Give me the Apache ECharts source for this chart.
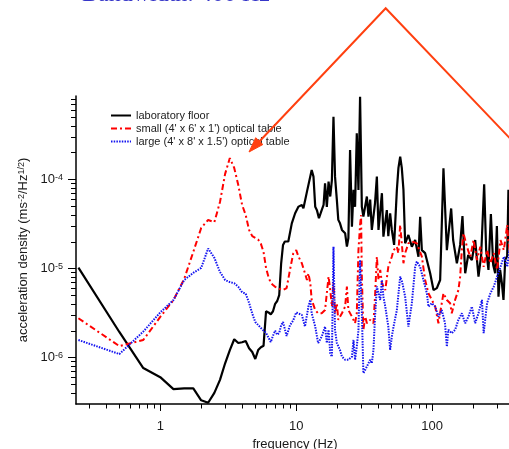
<!DOCTYPE html>
<html>
<head>
<meta charset="utf-8">
<style>
  html, body { margin: 0; padding: 0; background: #fff; }
  #chart { width: 509px; height: 449px; }
</style>
<script src="https://cdn.jsdelivr.net/npm/echarts@6/dist/echarts.min.js"></script>
</head>
<body>
<div id="chart"></div>
<script>
// axis ranges (log axes)
const FREQ_MIN = 0.24, FREQ_MAX = 400;
const ACC_MIN = 3e-7, ACC_MAX = 8.6e-4;

// labelled decades
const xTickLabels = [1, 10, 100];
const yTickLabels = [1e-6, 1e-5, 1e-4];

const seriesNames = [
  "laboratory floor",
  "small (4' x 6' x 1') optical table",
  "large (4' x 8' x 1.5') optical table"
];

// [frequency (Hz), acceleration density (m s^-2 / Hz^1/2)]
const floorData = [
  [0.25,1.02e-5],[0.5,1.93e-6],[0.75,7.6e-7],[1,6.0e-7],[1.25,4.4e-7],[1.5,4.5e-7],[1.75,4.5e-7],
  [2,3.3e-7],[2.25,3.1e-7],[2.5,4.0e-7],[2.75,5.6e-7],[3,8.6e-7],[3.25,1.21e-6],[3.5,1.6e-6],
  [3.75,1.45e-6],[4,1.48e-6],[4.25,1.53e-6],[4.5,1.27e-6],[4.75,1.15e-6],[5,9.6e-7],[5.25,1.21e-6],
  [5.5,1.3e-6],[5.75,1.35e-6],[6,3.3e-6],[6.25,3.2e-6],[6.5,3.05e-6],[6.75,3.3e-6],[7,4.0e-6],
  [7.25,4.3e-6],[7.5,5.0e-6],[7.75,1.14e-5],[8,1.83e-5],[8.25,2.0e-5],[8.5,2.05e-5],[8.75,2.0e-5],
  [9.28,3.2e-5],[9.82,4.15e-5],[10.4,4.93e-5],[11,5.15e-5],[11.3,4.72e-5],[12,7.26e-5],[12.3,7.6e-5],
  [13,1.27e-4],[13.4,1.07e-4],[13.8,4.9e-5],[14.2,4.5e-5],[14.7,3.65e-5],[15.4,4.5e-5],[15.9,5.15e-5],
  [16.3,9.0e-5],[16.8,4.9e-5],[17.3,9.4e-5],[17.8,6.4e-5],[18.3,9.8e-5],[18.8,5.04e-4],[19.3,1.07e-4],
  [19.9,5.9e-5],[20.4,3.5e-5],[21,3.2e-5],[21.7,2.7e-5],[22.9,2.48e-5],[23.6,1.75e-5],[24.2,2.19e-5],
  [24.9,2.13e-4],[25.7,2.94e-5],[26.4,7.6e-5],[27.1,4.9e-5],[27.9,3.28e-4],[28.7,7.6e-5],[29.5,8.45e-4],
  [30.4,4.9e-5],[31.2,3.8e-5],[33.1,6.4e-5],[34,3.8e-5],[35,5.9e-5],[36,2.7e-5],[38,5.4e-5],
  [39.2,1.07e-4],[40.3,2.7e-5],[42.7,6.97e-5],[43.8,2.27e-5],[46.4,4.5e-5],[47.6,2.3e-5],[49.1,4.15e-5],
  [50.5,2.7e-5],[52.5,1.83e-5],[55,7.6e-5],[56.5,1.34e-4],[58.2,1.79e-4],[59.8,1.34e-4],[61.5,7.6e-5],
  [63.3,1.91e-5],[66.9,2.37e-5],[70.9,1.75e-5],[75,2.08e-5],[79.3,1.35e-5],[81.6,3.8e-5],[84,1.6e-5],
  [88.8,1.48e-5],[96.7,8.8e-6],[102.3,5.7e-6],[108.3,6.0e-6],[114.5,7.4e-6],[121.1,1.33e-4],[128.3,1.6e-5],
  [138,4.7e-5],[142.7,2.08e-5],[152,1.14e-5],[160.7,1.83e-5],[167.1,3.87e-5],[175,8.8e-6],[184.2,1.41e-5],
  [196,1.24e-5],[207.3,2.08e-5],[219.2,8.07e-6],[229.4,1.41e-5],[241.3,8.8e-5],[249.6,1.6e-5],
  [259.6,9.6e-6],[270.4,4.08e-5],[281.2,1.09e-5],[290.8,8.8e-6],[299.3,2.99e-5],[307.6,4.8e-6],
  [316.3,9.6e-6],[325.8,6.8e-6],[334.7,4.42e-6],[344.5,1.24e-5],[356.5,1.38e-5],[364,7.6e-5],
  [372,2.08e-5],[388,9.6e-6]
];

const smallTableData = [
  [0.25,2.75e-6],[0.5,1.34e-6],[0.75,1.57e-6],[1,2.85e-6],[1.25,4.4e-6],[1.5,7.6e-6],[1.75,1.53e-5],
  [2,2.84e-5],[2.25,3.49e-5],[2.5,3.3e-5],[2.75,5.56e-5],[3,1.15e-4],[3.25,1.73e-4],[3.5,1.34e-4],
  [3.75,8.6e-5],[4,5.15e-5],[4.25,3.97e-5],[4.5,2.7e-5],[4.75,2.3e-5],[5,2.2e-5],[5.25,2.1e-5],
  [5.5,1.88e-5],[5.75,1.53e-5],[6,1.01e-5],[6.25,8.0e-6],[6.5,6.85e-6],[6.75,6.5e-6],[7,6.2e-6],
  [7.5,5.9e-6],[8,5.7e-6],[8.5,6.0e-6],[9,9.6e-6],[9.5,1.46e-5],[10,1.6e-5],[10.4,1.35e-5],
  [11,1.14e-5],[11.6,8.8e-6],[12,7.4e-6],[12.3,8.8e-6],[12.7,6.8e-6],[13,4.42e-6],[13.8,3.4e-6],
  [14.5,3.13e-6],[15.4,3.13e-6],[16.3,3.4e-6],[17.3,8.07e-6],[17.8,5.7e-6],[18.3,3.72e-6],[18.8,6.85e-6],
  [19.3,3.13e-6],[19.9,4.06e-6],[20.4,2.64e-6],[21.7,3.13e-6],[22.9,3.72e-6],[23.6,6.24e-6],[24.2,3.4e-6],
  [25.7,2.87e-6],[27.1,2.42e-6],[27.9,3.13e-6],[28.7,1.6e-5],[29.5,3.07e-5],[30,3.97e-5],[30.4,8.07e-6],
  [31.2,2.04e-6],[32.2,2.87e-6],[33.1,2.42e-6],[35,2.64e-6],[37,2.42e-6],[38,4.8e-6],[39.2,1.35e-5],
  [40.3,7.4e-6],[41.5,9.6e-6],[42.7,6.8e-6],[45.2,5.7e-6],[47.6,1.04e-5],[50.5,1.35e-5],[52,1.6e-5],
  [55,1.75e-5],[56.4,1.48e-5],[58.2,3.07e-5],[59.8,1.91e-5],[61.5,1.14e-5],[63.3,1.48e-5],[66.9,1.91e-5],
  [70.9,2.0e-5],[77.1,1.91e-5],[84,1.35e-5],[88.8,7.4e-6],[93.9,5.25e-6],[99.5,4.42e-6],[105.3,3.72e-6],
  [111.2,2.42e-6],[117.7,4.06e-6],[121.1,5.25e-6],[128.3,4.42e-6],[135.6,4.06e-6],[139.4,3.13e-6],
  [147.5,4.42e-6],[156,5.7e-6],[160.7,8.07e-6],[165.3,1.6e-5],[170,2.48e-5],[180.1,1.75e-5],
  [190.6,1.35e-5],[201.8,2.08e-5],[213.6,1.24e-5],[226.1,1.75e-5],[239.3,1.04e-5],[253.4,1.6e-5],
  [268.3,1.14e-5],[283.9,1.48e-5],[300.5,9.6e-6],[318.2,2.08e-5],[336.8,1.6e-5],[356.5,3.07e-5],
  [362.7,2.08e-5],[376,1.41e-5]
];

const largeTableData = [
  [0.25,1.57e-6],[0.5,1.09e-6],[0.75,1.95e-6],[1,3.2e-6],[1.25,4.4e-6],[1.5,7.4e-6],[1.75,8.9e-6],
  [2,1.01e-5],[2.25,1.67e-5],[2.5,1.31e-5],[2.75,9.1e-6],[3,7.4e-6],[3.25,7.0e-6],[3.5,6.8e-6],
  [3.75,6.2e-6],[4,5.4e-6],[4.25,5.2e-6],[4.5,4.1e-6],[4.75,3.1e-6],[5,2.5e-6],[5.5,2.14e-6],
  [6,1.88e-6],[6.5,1.49e-6],[6.75,1.75e-6],[7,2.0e-6],[7.25,1.8e-6],[7.5,1.88e-6],[7.75,2.3e-6],
  [8,2.5e-6],[8.5,1.74e-6],[9,2.3e-6],[9.5,2.6e-6],[10,3.2e-6],[11,3.0e-6],[11.6,2.22e-6],
  [12.3,3.72e-6],[12.7,4.42e-6],[13,3.13e-6],[13.8,2.22e-6],[14.5,1.45e-6],[15.4,1.71e-6],[16.3,2.22e-6],
  [16.8,1.45e-6],[17.3,2.04e-6],[17.8,1.11e-6],[18.3,1.02e-6],[18.8,1.75e-5],[19.3,2.04e-6],[19.9,1.45e-6],
  [21,1.21e-6],[21.7,1.02e-6],[22.9,9.4e-7],[24.2,9.4e-7],[25.7,1.02e-6],[26.4,1.57e-6],[27.1,9.4e-7],
  [27.9,1.32e-6],[28.7,2.04e-6],[29.5,1.24e-5],[30.4,3.13e-6],[31.2,6.65e-7],[32.2,7.25e-7],[33.1,7.9e-7],
  [35,9.4e-7],[36,8.6e-7],[37,1.21e-6],[38,2.87e-6],[39.2,6.24e-6],[40.3,5.25e-6],[41.5,4.42e-6],
  [42.7,7.4e-6],[43.8,4.8e-6],[45.2,3.72e-6],[47.6,2.22e-6],[49.1,1.21e-6],[50.5,1.71e-6],[52,2.22e-6],
  [55,3.4e-6],[58.2,8.07e-6],[60.2,7.0e-6],[63.3,4.8e-6],[66.9,2.22e-6],[70.9,4.06e-6],[75,1.04e-5],
  [77.1,1.19e-5],[81.6,1.04e-5],[86.3,7.4e-6],[91.4,5.25e-6],[93.9,3.72e-6],[99.5,4.06e-6],[105.3,3.72e-6],
  [111.2,2.87e-6],[117.7,3.4e-6],[124.3,2.42e-6],[128.3,1.32e-6],[131.5,2.04e-6],[139.4,1.87e-6],
  [147.5,2.04e-6],[156,2.64e-6],[165.3,3.13e-6],[175,2.42e-6],[184.9,2.87e-6],[196,3.72e-6],
  [207.3,2.42e-6],[219.2,3.13e-6],[232.4,4.42e-6],[239.3,1.87e-6],[253.4,4.06e-6],[268.3,5.25e-6],
  [283.9,6.24e-6],[300.5,8.07e-6],[318.2,1.04e-5],[336.8,1.35e-5],[356.5,1.04e-5],[370,1.6e-5],
  [388,1.17e-5]
];

const FONT = '"Liberation Sans", Arial, sans-serif';

// tick marks at 1..9 x 10^n, long ones on the decades
function logTicks(lo, hi) {
  const out = [];
  for (let d = Math.floor(Math.log10(lo)); d <= Math.ceil(Math.log10(hi)); d++) {
    for (let m = 1; m <= 9; m++) {
      const v = m * Math.pow(10, d);
      if (v > lo * 1.001 && v < hi * 0.999) out.push({ v, major: m === 1 });
    }
  }
  return out;
}
const xTickData = logTicks(FREQ_MIN, FREQ_MAX).map(t => [t.v, ACC_MIN, t.major ? 7 : 4.5]);
const yTickData = logTicks(ACC_MIN, ACC_MAX).map(t => [FREQ_MIN, t.v, t.major ? 8 : 5]);

const isTick = (list, v) => list.find(t => Math.abs(t - v) / t < 1e-6);

const chart = echarts.init(document.getElementById("chart"));

const option = {
  animation: false,
  backgroundColor: "#fff",
  textStyle: { fontFamily: FONT },
  grid: { left: 76, right: -5, top: 96, bottom: 45, outerBoundsMode: "none" },
  legend: {
    data: seriesNames,
    orient: "vertical",
    left: 110, top: 110,
    padding: 0,
    itemWidth: 20, itemHeight: 8, itemGap: 2,
    selectedMode: false,
    itemStyle: { opacity: 0 },
    textStyle: { fontSize: 11, color: "#222", fontFamily: FONT }
  },
  xAxis: {
    type: "log", logBase: 10, min: FREQ_MIN, max: FREQ_MAX,
    name: "frequency (Hz)", nameLocation: "middle", nameGap: 32,
    nameTextStyle: { fontSize: 13, color: "#1a1a1a", fontFamily: FONT },
    axisLine: { onZero: false, lineStyle: { color: "#000", width: 1.5 } },
    axisTick: { show: false },
    splitLine: { show: false },
    axisLabel: {
      margin: 16, fontSize: 13, color: "#1a1a1a", fontFamily: FONT,
      formatter: v => { const t = isTick(xTickLabels, v); return t ? String(t) : ""; }
    }
  },
  yAxis: {
    type: "log", logBase: 10, min: ACC_MIN, max: ACC_MAX,
    name: "{n|acceleration density (ms}{s|-2}{n|/Hz}{s|1/2}{n|)}",
    nameLocation: "middle", nameGap: 46,
    nameTextStyle: {
      color: "#1a1a1a", fontFamily: FONT,
      rich: {
        n: { fontSize: 13, color: "#1a1a1a", fontFamily: FONT },
        s: { fontSize: 9, color: "#1a1a1a", fontFamily: FONT, verticalAlign: "top" }
      }
    },
    axisLine: { lineStyle: { color: "#000", width: 1.5 } },
    axisTick: { show: false },
    splitLine: { show: false },
    axisLabel: {
      margin: 13, color: "#1a1a1a", fontFamily: FONT,
      formatter: v => {
        const t = isTick(yTickLabels, v);
        return t ? "{b|10}{s|" + Math.round(Math.log10(t)) + "}" : "";
      },
      rich: {
        b: { fontSize: 13, color: "#1a1a1a", fontFamily: FONT },
        s: { fontSize: 9, color: "#1a1a1a", fontFamily: FONT, verticalAlign: "top" }
      }
    }
  },
  series: [
    {
      name: seriesNames[0], type: "line", data: floorData,
      symbol: "none", showSymbol: false,
      lineStyle: { color: "#000", width: 2.2 },
      itemStyle: { color: "#000" }
    },
    {
      name: seriesNames[1], type: "line", data: smallTableData,
      symbol: "none", showSymbol: false,
      lineStyle: { color: "#ff0000", width: 2, type: [6, 3, 2, 3] },
      itemStyle: { color: "#ff0000" }
    },
    {
      name: seriesNames[2], type: "line", data: largeTableData,
      symbol: "none", showSymbol: false,
      lineStyle: { color: "#1414f0", width: 2, type: [1.5, 1.2] },
      itemStyle: { color: "#1414f0" }
    },
    {
      name: "xticks", type: "custom", data: xTickData, silent: true, z: 5,
      renderItem: (params, api) => {
        const p = api.coord([api.value(0), api.value(1)]);
        const x = Math.round(p[0]) + 0.5;
        return { type: "line", shape: { x1: x, y1: p[1], x2: x, y2: p[1] + api.value(2) },
                 style: { stroke: "#000", lineWidth: 1 } };
      }
    },
    {
      name: "yticks", type: "custom", data: yTickData, silent: true, z: 5,
      renderItem: (params, api) => {
        const p = api.coord([api.value(0), api.value(1)]);
        const y = Math.round(p[1]) + 0.5;
        return { type: "line", shape: { x1: p[0], y1: y, x2: p[0] - api.value(2), y2: y },
                 style: { stroke: "#000", lineWidth: 1 } };
      }
    }
  ],
  graphic: [
    {
      // title text cut off by the top edge of the picture
      type: "text", x: 82, y: -17, silent: true, z: 100,
      style: {
        text: "Bandwidth: 400 Hz",
        font: '24px "Liberation Serif", "Times New Roman", serif',
        fill: "#3636c8", verticalAlign: "top", align: "left"
      }
    },
    {
      type: "polyline", silent: true, z: 100,
      shape: { points: [[256, 145], [385.7, 8.3], [522, 151]] },
      style: { stroke: "#ff4010", lineWidth: 2, fill: null }
    },
    {
      type: "polygon", silent: true, z: 100,
      shape: { points: [[249, 152], [255.7, 137.7], [262.9, 144.5]] },
      style: { fill: "#ff4010", stroke: "#ff4010", lineWidth: 1 }
    }
  ]
};

chart.setOption(option);
</script>
</body>
</html>
